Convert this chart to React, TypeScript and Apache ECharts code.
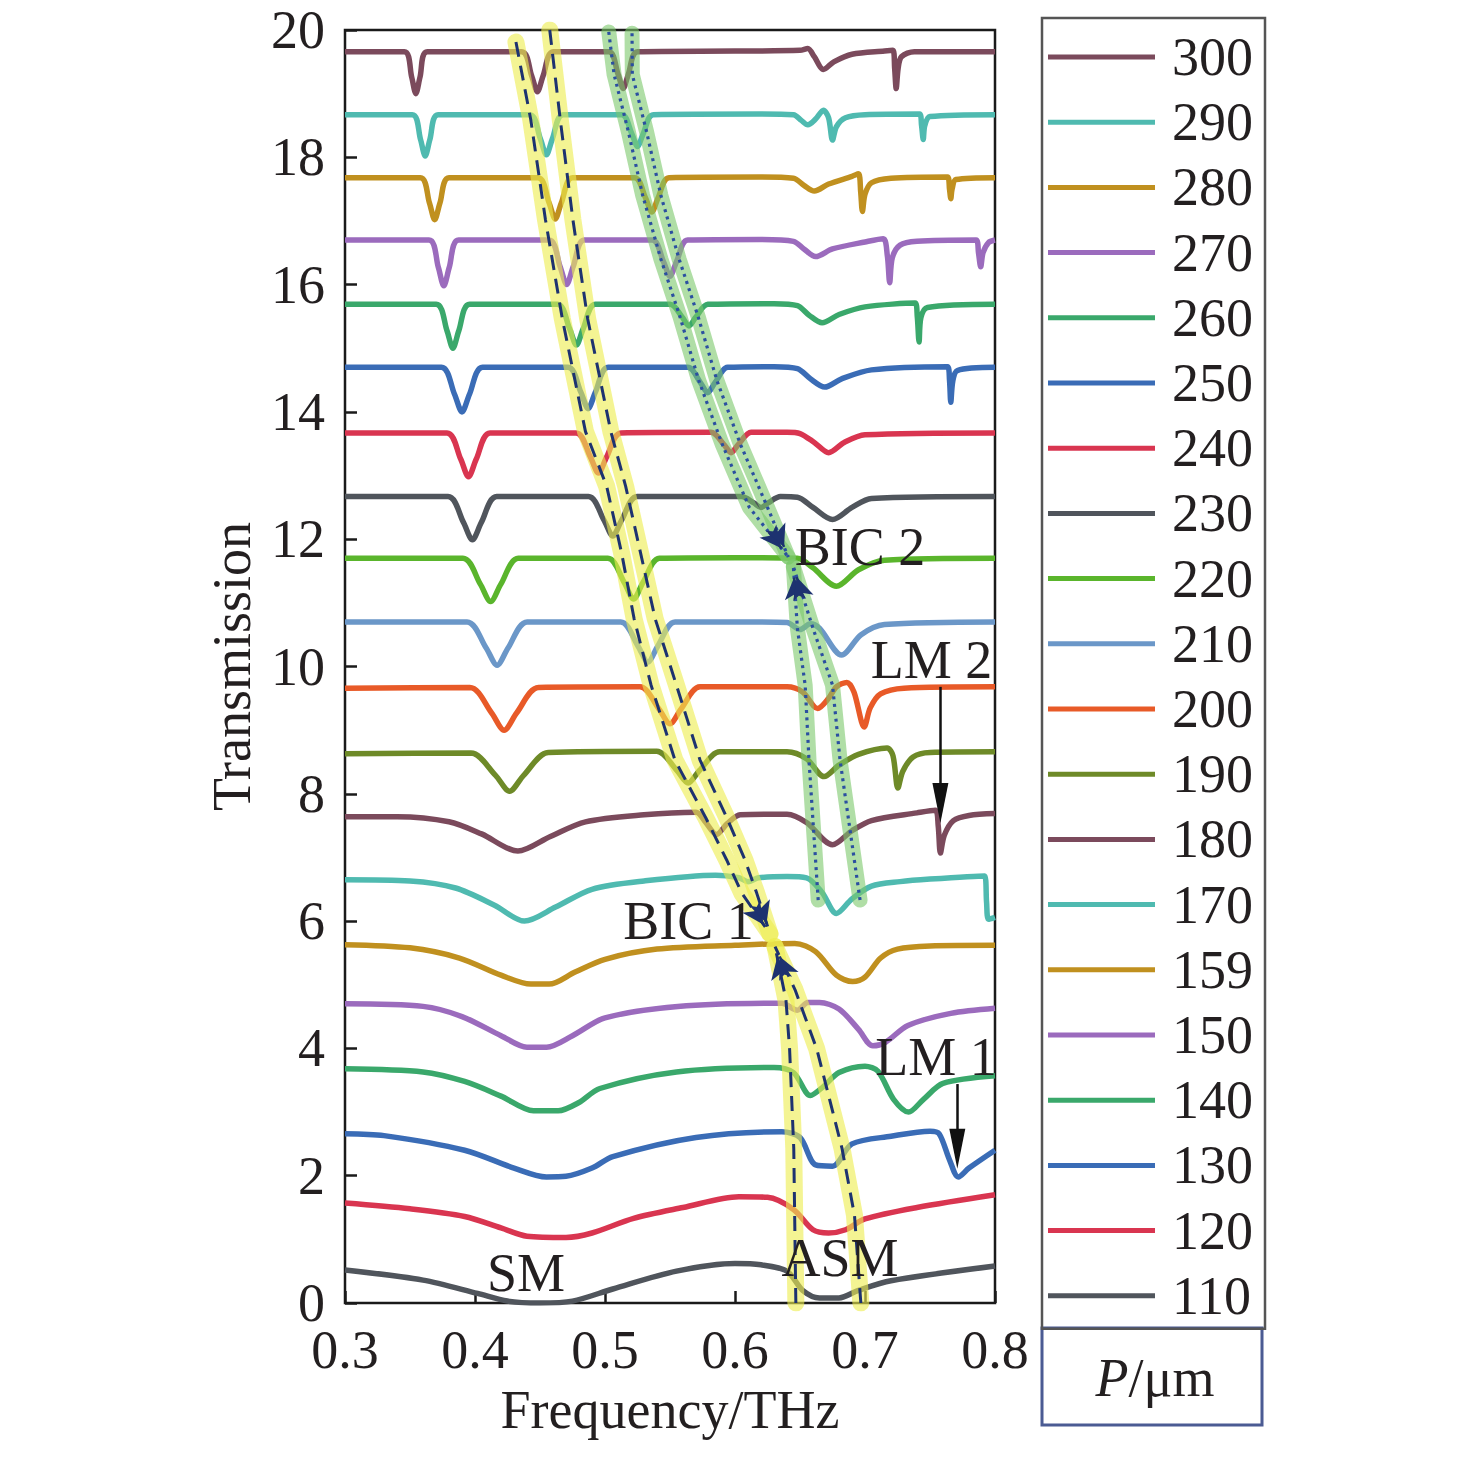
import React, { useEffect, useRef } from "react";
import * as echarts from "echarts";

// ---------- data ----------
const periods = ["300", "290", "280", "270", "260", "250", "240", "230", "220", "210", "200", "190", "180", "170", "159", "150", "140", "130", "120", "110"];
const xTicks = [0.3, 0.4, 0.5, 0.6, 0.7, 0.8];
const yTicks = [0, 2, 4, 6, 8, 10, 12, 14, 16, 18, 20];

const t300 = [[0.3,19.66],[0.3457,19.66],[0.3513,19.26],[0.3545,19.0],[0.3577,19.26],[0.3633,19.66],[0.4359,19.66],[0.4436,19.28],[0.448,19.03],[0.4524,19.28],[0.4601,19.66],[0.503,19.66],[0.51,19.31],[0.514,19.08],[0.518,19.31],[0.525,19.66],[0.6,19.67],[0.65,19.68],[0.656,19.71],[0.661,19.58],[0.668,19.38],[0.676,19.5],[0.69,19.62],[0.715,19.67],[0.7215,19.68],[0.7228,19.4],[0.724,19.08],[0.7255,19.4],[0.728,19.58],[0.738,19.66],[0.8,19.66]];
const t290 = [[0.3,18.67],[0.3518,18.67],[0.3581,18.28],[0.3617,18.02],[0.3653,18.28],[0.3716,18.67],[0.4421,18.67],[0.4503,18.29],[0.4549,18.04],[0.4595,18.29],[0.4677,18.67],[0.5129,18.67],[0.5206,18.37],[0.525,18.17],[0.5294,18.37],[0.5371,18.67],[0.62,18.68],[0.645,18.67],[0.651,18.58],[0.656,18.51],[0.662,18.6],[0.668,18.74],[0.672,18.62],[0.675,18.27],[0.678,18.48],[0.685,18.62],[0.7,18.67],[0.742,18.68],[0.7435,18.5],[0.7448,18.28],[0.746,18.5],[0.75,18.64],[0.8,18.67]];
const t280 = [[0.3,17.68],[0.358,17.68],[0.365,17.28],[0.369,17.02],[0.373,17.28],[0.38,17.68],[0.4485,17.68],[0.4569,17.29],[0.4617,17.03],[0.4665,17.29],[0.4749,17.68],[0.5228,17.68],[0.5312,17.36],[0.536,17.14],[0.5408,17.36],[0.5492,17.68],[0.62,17.69],[0.645,17.67],[0.653,17.56],[0.661,17.47],[0.672,17.58],[0.69,17.7],[0.695,17.74],[0.6967,17.45],[0.698,17.15],[0.7,17.42],[0.705,17.6],[0.72,17.67],[0.7635,17.69],[0.765,17.5],[0.766,17.35],[0.767,17.5],[0.77,17.65],[0.8,17.68]];
const t270 = [[0.3,16.7],[0.3646,16.7],[0.3718,16.27],[0.376,15.98],[0.3802,16.27],[0.3874,16.7],[0.4569,16.7],[0.4655,16.28],[0.4705,16.0],[0.4755,16.28],[0.4841,16.7],[0.5364,16.7],[0.545,16.36],[0.55,16.13],[0.555,16.36],[0.5636,16.7],[0.62,16.71],[0.645,16.68],[0.653,16.56],[0.662,16.44],[0.675,16.56],[0.7,16.67],[0.714,16.72],[0.7172,16.45],[0.719,16.03],[0.721,16.42],[0.727,16.62],[0.74,16.68],[0.7855,16.7],[0.7873,16.5],[0.789,16.28],[0.7908,16.5],[0.795,16.66],[0.8,16.7]];
const t260 = [[0.3,15.69],[0.3702,15.69],[0.3784,15.28],[0.383,15.0],[0.3876,15.28],[0.3958,15.69],[0.4635,15.69],[0.4727,15.31],[0.478,15.05],[0.4833,15.31],[0.4925,15.69],[0.5501,15.69],[0.5593,15.49],[0.5646,15.35],[0.5699,15.49],[0.5791,15.69],[0.63,15.7],[0.648,15.67],[0.657,15.52],[0.667,15.4],[0.68,15.53],[0.7,15.65],[0.7385,15.71],[0.7402,15.5],[0.7416,15.1],[0.743,15.48],[0.748,15.64],[0.8,15.69]];
const t250 = [[0.3,14.7],[0.3742,14.7],[0.3842,14.28],[0.39,14.0],[0.3958,14.28],[0.4058,14.7],[0.4716,14.7],[0.4814,14.31],[0.487,14.05],[0.4926,14.31],[0.5024,14.7],[0.5636,14.7],[0.5734,14.46],[0.579,14.3],[0.5846,14.46],[0.5944,14.7],[0.63,14.71],[0.648,14.68],[0.658,14.52],[0.669,14.39],[0.682,14.52],[0.705,14.66],[0.7635,14.71],[0.765,14.5],[0.766,14.15],[0.7675,14.48],[0.771,14.65],[0.8,14.7]];
const t240 = [[0.3,13.67],[0.3785,13.67],[0.389,13.26],[0.395,12.98],[0.401,13.26],[0.4115,13.67],[0.4778,13.67],[0.4888,13.29],[0.495,13.04],[0.5012,13.29],[0.5122,13.67],[0.5816,13.68],[0.5914,13.49],[0.597,13.36],[0.6026,13.49],[0.6124,13.68],[0.64,13.68],[0.65,13.66],[0.661,13.52],[0.672,13.36],[0.684,13.52],[0.7,13.64],[0.8,13.67]];
const t230 = [[0.3,12.67],[0.3793,12.67],[0.3912,12.26],[0.398,11.99],[0.4048,12.26],[0.4167,12.67],[0.4873,12.67],[0.4992,12.3],[0.506,12.05],[0.5128,12.3],[0.5247,12.67],[0.605,12.67],[0.6145,12.57],[0.62,12.5],[0.6255,12.57],[0.635,12.67],[0.648,12.66],[0.66,12.5],[0.675,12.31],[0.69,12.5],[0.705,12.64],[0.8,12.67]];
const t220 = [[0.3,11.7],[0.3907,11.7],[0.4042,11.29],[0.412,11.02],[0.4198,11.29],[0.4333,11.7],[0.5022,11.7],[0.5148,11.32],[0.522,11.06],[0.5292,11.32],[0.5418,11.7],[0.6,11.71],[0.648,11.7],[0.66,11.55],[0.678,11.26],[0.695,11.52],[0.715,11.67],[0.8,11.7]];
const t210 = [[0.3,10.7],[0.3939,10.7],[0.4086,10.29],[0.417,10.02],[0.4254,10.29],[0.4401,10.7],[0.5121,10.7],[0.5254,10.32],[0.533,10.07],[0.5406,10.32],[0.5539,10.7],[0.62,10.7],[0.64,10.69],[0.65,10.58],[0.658,10.67],[0.665,10.6],[0.682,10.18],[0.697,10.5],[0.715,10.66],[0.8,10.7]];
const t200 = [[0.3,9.66],[0.396,9.67],[0.4128,9.27],[0.4224,9.0],[0.432,9.27],[0.4488,9.67],[0.5269,9.68],[0.5416,9.33],[0.55,9.1],[0.5584,9.33],[0.5731,9.68],[0.64,9.68],[0.652,9.6],[0.6636,9.34],[0.672,9.5],[0.678,9.68],[0.686,9.75],[0.6915,9.6],[0.6994,9.05],[0.704,9.35],[0.712,9.57],[0.73,9.66],[0.8,9.68]];
const t190 = [[0.3,8.63],[0.3969,8.64],[0.4158,8.29],[0.4266,8.04],[0.4374,8.29],[0.4563,8.65],[0.5398,8.67],[0.5552,8.37],[0.564,8.17],[0.5728,8.37],[0.5882,8.66],[0.64,8.66],[0.655,8.55],[0.6685,8.27],[0.68,8.45],[0.695,8.62],[0.717,8.72],[0.7215,8.6],[0.7253,8.09],[0.729,8.35],[0.737,8.58],[0.75,8.65],[0.8,8.66]];
const t180 = [[0.3,7.64],[0.34,7.64],[0.38,7.56],[0.405,7.37],[0.433,7.1],[0.458,7.33],[0.485,7.56],[0.53,7.67],[0.57,7.71],[0.5775,7.55],[0.5857,7.36],[0.594,7.53],[0.604,7.67],[0.64,7.68],[0.655,7.55],[0.675,7.2],[0.69,7.42],[0.705,7.58],[0.74,7.7],[0.754,7.74],[0.7563,7.5],[0.758,7.07],[0.761,7.35],[0.768,7.58],[0.78,7.66],[0.8,7.69]];
const t170 = [[0.3,6.65],[0.35,6.63],[0.385,6.52],[0.415,6.25],[0.438,6.0],[0.462,6.22],[0.49,6.5],[0.53,6.63],[0.585,6.72],[0.603,6.68],[0.61,6.62],[0.618,6.68],[0.64,6.7],[0.655,6.68],[0.667,6.45],[0.678,6.12],[0.69,6.35],[0.705,6.55],[0.727,6.62],[0.75,6.66],[0.792,6.71],[0.7935,6.3],[0.795,6.03],[0.8,6.06]];
const t159 = [[0.3,5.63],[0.35,5.58],[0.388,5.42],[0.42,5.15],[0.443,5.01],[0.457,5.01],[0.477,5.2],[0.5,5.4],[0.54,5.56],[0.6,5.62],[0.646,5.65],[0.662,5.52],[0.678,5.15],[0.6905,5.05],[0.7,5.12],[0.712,5.42],[0.725,5.56],[0.75,5.61],[0.8,5.62]];
const t150 = [[0.3,4.7],[0.36,4.66],[0.39,4.5],[0.42,4.2],[0.44,4.02],[0.455,4.02],[0.475,4.2],[0.5,4.48],[0.556,4.66],[0.636,4.71],[0.648,4.6],[0.656,4.72],[0.665,4.72],[0.68,4.62],[0.695,4.3],[0.706,4.04],[0.716,4.1],[0.733,4.36],[0.766,4.55],[0.8,4.63]];
const t140 = [[0.3,3.68],[0.36,3.63],[0.392,3.48],[0.42,3.25],[0.445,3.02],[0.464,3.02],[0.48,3.15],[0.496,3.37],[0.555,3.63],[0.63,3.7],[0.645,3.62],[0.658,3.26],[0.668,3.4],[0.68,3.62],[0.7,3.72],[0.71,3.64],[0.722,3.2],[0.7335,3.0],[0.745,3.2],[0.76,3.45],[0.8,3.57]];
const t130 = [[0.3,2.66],[0.33,2.63],[0.392,2.4],[0.43,2.12],[0.455,1.98],[0.47,1.99],[0.49,2.12],[0.506,2.3],[0.57,2.6],[0.636,2.69],[0.65,2.6],[0.662,2.17],[0.675,2.15],[0.69,2.5],[0.72,2.62],[0.75,2.7],[0.757,2.66],[0.765,2.25],[0.7718,1.98],[0.78,2.12],[0.8,2.4]];
const t120 = [[0.3,1.57],[0.35,1.48],[0.392,1.36],[0.42,1.18],[0.44,1.05],[0.47,1.03],[0.49,1.1],[0.522,1.33],[0.56,1.5],[0.603,1.67],[0.625,1.66],[0.645,1.47],[0.66,1.15],[0.672,1.1],[0.685,1.15],[0.7,1.32],[0.74,1.5],[0.8,1.7]];
const t110 = [[0.3,0.52],[0.36,0.36],[0.402,0.15],[0.425,0.03],[0.45,0.0],[0.475,0.03],[0.506,0.22],[0.555,0.5],[0.6,0.62],[0.62,0.6],[0.64,0.5],[0.652,0.2],[0.665,0.08],[0.68,0.08],[0.695,0.2],[0.72,0.35],[0.8,0.58]];

const curves = [t300, t290, t280, t270, t260, t250, t240, t230, t220, t210, t200, t190, t180, t170, t159, t150, t140, t130, t120, t110];

// mode tracks (yellow/dashed = towards BIC 1, green/dotted = towards BIC 2), drawn towards the arrow tip
const smUpperLeft = [[0.4315,19.81],[0.4429,18.59],[0.4542,17.02],[0.4672,15.46],[0.485,13.69],[0.5013,12.83],[0.5127,11.79],[0.5224,10.75],[0.5354,9.71],[0.5538,8.53],[0.5776,7.62],[0.5936,6.96],[0.6052,6.44],[0.6269,5.8]];
const smUpperRight = [[0.4575,20.0],[0.4656,18.59],[0.4753,17.02],[0.4867,15.46],[0.5045,13.69],[0.5159,12.83],[0.5273,11.79],[0.5386,10.75],[0.5549,9.71],[0.5731,8.53],[0.5938,7.62],[0.6077,6.96],[0.6167,6.44],[0.6269,5.8]];
const asmLowerLeft = [[0.6468,0.0],[0.6452,2.43],[0.642,3.99],[0.6392,4.76],[0.6308,5.6]];
const asmLowerRight = [[0.6968,0.0],[0.6919,1.38],[0.6823,2.43],[0.6629,3.99],[0.6462,4.92],[0.6308,5.6]];
const bicUpperLeft = [[0.5029,19.97],[0.507,19.3],[0.518,18.4],[0.529,17.4],[0.543,16.4],[0.5576,15.5],[0.572,14.5],[0.59,13.5],[0.611,12.5],[0.641,11.72]];
const bicUpperRight = [[0.5208,19.95],[0.521,19.3],[0.532,18.4],[0.543,17.4],[0.557,16.4],[0.5716,15.5],[0.586,14.5],[0.604,13.5],[0.625,12.5],[0.641,11.72]];
const bicLowerLeft = [[0.664,6.33],[0.657,8.5],[0.654,9.7],[0.648,10.6],[0.6449,11.57]];
const bicLowerRight = [[0.6962,6.33],[0.6808,8.53],[0.675,9.71],[0.66,10.6],[0.6449,11.57]];

// LM arrows: [start, tip]
const lmArrows = [[[0.758, 9.68], [0.758, 7.54]], [[0.771, 3.44], [0.771, 2.11]]];

const annotations = [
  { text: "BIC 2", f: 0.6962, v: 11.88 },
  { text: "LM 2", f: 0.7512, v: 10.1 },
  { text: "BIC 1", f: 0.5642, v: 6.0 },
  { text: "LM 1", f: 0.7546, v: 3.86 },
  { text: "SM", f: 0.4392, v: 0.47 },
  { text: "ASM", f: 0.6808, v: 0.71 },
];

// ---------- styles ----------
const colors = ["#7b4a5c", "#4fbab0", "#c0901f", "#9b6bbd", "#3aa86b", "#3a6cb6", "#d93550", "#50555c", "#5ab52c", "#6b97c8", "#e85a28", "#6e8a28", "#7b4a5c", "#4fbab0", "#c0901f", "#9b6bbd", "#3aa86b", "#3a6cb6", "#d93550", "#50555c"];
const FONT = '"Liberation Serif", "Times New Roman", Times, serif';
const INK = "#231f20";
const NAVY = "#1d3270";
const GRID = { left: 345, top: 30, right: 481, bottom: 173 };
const PX_PER_V = (1476 - GRID.top - GRID.bottom) / 20;
const PX_PER_F = (1476 - GRID.left - GRID.right) / 0.5;
const LM_HEAD = [16, 40];
const TRACK_HEAD = [16, 22];

// the arrow symbol is centred on the line end, so end the line half a head before the tip
function pullBack(a: number[], b: number[], px: number) {
  const dx = (b[0] - a[0]) * PX_PER_F;
  const dy = (b[1] - a[1]) * PX_PER_V;
  const len = Math.hypot(dx, dy) || 1;
  return [b[0] - (dx / len) * px / PX_PER_F, b[1] - (dy / len) * px / PX_PER_V];
}

function arrowSeg(track: number[][]) {
  const a = track[track.length - 2];
  const b = track[track.length - 1];
  const end = pullBack(a, b, TRACK_HEAD[1] / 2);
  return { coords: [[a[0] + (b[0] - a[0]) * 0.5, a[1] + (b[1] - a[1]) * 0.5], end] };
}

function lmSeg(c: number[][]) {
  return { coords: [c[0], pullBack(c[0], c[1], LM_HEAD[1] / 2)] };
}

function buildOption() {
  const series: any[] = curves.map((d, i) => ({
    type: "line",
    name: periods[i],
    data: d,
    smooth: 0.3,
    showSymbol: false,
    symbol: "none",
    silent: true,
    lineStyle: { width: 5.5, color: colors[i] },
    itemStyle: { color: colors[i] },
    z: 2,
  }));

  const yellow = [smUpperLeft, smUpperRight, asmLowerLeft, asmLowerRight];
  const green = [bicUpperLeft, bicUpperRight, bicLowerLeft, bicLowerRight];

  yellow.forEach((t) => {
    series.push({ type: "line", data: t, showSymbol: false, symbol: "none", silent: true, z: 3,
      lineStyle: { width: 17, color: "#eded50", opacity: 0.62, cap: "round", join: "round" } });
  });
  green.forEach((t) => {
    series.push({ type: "line", data: t, showSymbol: false, symbol: "none", silent: true, z: 3,
      lineStyle: { width: 15, color: "#7cc86a", opacity: 0.6, cap: "round", join: "round" } });
  });
  yellow.forEach((t) => {
    series.push({ type: "line", data: t, showSymbol: false, symbol: "none", silent: true, z: 4,
      lineStyle: { width: 3, color: NAVY, type: [15, 9] } });
  });
  green.forEach((t) => {
    series.push({ type: "line", data: t, showSymbol: false, symbol: "none", silent: true, z: 4,
      lineStyle: { width: 3.2, color: "#2b4fa0", type: [3, 4.5] } });
  });

  series.push({
    type: "lines", coordinateSystem: "cartesian2d", silent: true, z: 5,
    symbol: ["none", "arrow"], symbolSize: [0, TRACK_HEAD],
    lineStyle: { color: NAVY, width: 2.5, opacity: 1 },
    data: [...yellow, ...green].map(arrowSeg),
  });
  series.push({
    type: "lines", coordinateSystem: "cartesian2d", silent: true, z: 5,
    symbol: ["none", "triangle"], symbolSize: [0, LM_HEAD],
    lineStyle: { color: "#111", width: 2.5, opacity: 1 },
    data: lmArrows.map(lmSeg),
  });
  series.push({
    type: "scatter", silent: true, z: 6, symbolSize: 0,
    itemStyle: { opacity: 1 },
    data: annotations.map((a) => ({ value: [a.f, a.v], name: a.text })),
    label: { show: true, position: [0, 0], align: "center", verticalAlign: "middle", formatter: (p: any) => p.name,
      fontFamily: FONT, fontSize: 54, color: INK, textBorderWidth: 0, opacity: 1 },
  });

  return {
    animation: false,
    backgroundColor: "#ffffff",
    grid: { ...GRID, show: true, borderColor: "#1a1a1a", borderWidth: 2.5, backgroundColor: "transparent" },
    xAxis: {
      type: "value", min: xTicks[0], max: xTicks[xTicks.length - 1], interval: 0.1,
      name: "Frequency/THz", nameLocation: "middle", nameGap: 80,
      nameTextStyle: { fontFamily: FONT, fontSize: 54, color: INK },
      axisLine: { show: false },
      axisTick: { show: true, inside: true, length: 12, lineStyle: { color: "#1a1a1a", width: 2.5 } },
      axisLabel: { fontFamily: FONT, fontSize: 54, color: INK, margin: 20, formatter: (v: number) => v.toFixed(1) },
      splitLine: { show: false },
    },
    yAxis: {
      type: "value", min: yTicks[0], max: yTicks[yTicks.length - 1], interval: 2,
      name: "Transmission", nameLocation: "middle", nameGap: 86,
      nameTextStyle: { fontFamily: FONT, fontSize: 54, color: INK },
      axisLine: { show: false },
      axisTick: { show: true, inside: true, length: 12, lineStyle: { color: "#1a1a1a", width: 2.5 } },
      axisLabel: { fontFamily: FONT, fontSize: 54, color: INK, margin: 20 },
      splitLine: { show: false },
    },
    legend: {
      data: periods, orient: "vertical", left: 1042, top: 18,
      itemWidth: 107, itemHeight: 5, itemGap: 11.2, icon: "rect",
      padding: [12, 12, 6, 6], borderColor: "#555", borderWidth: 2.5,
      selectedMode: false,
      textStyle: { fontFamily: FONT, fontSize: 54, color: INK, padding: [0, 0, 0, 12] },
    },
    graphic: [
      { type: "rect", shape: { x: 1042, y: 1328, width: 220, height: 97 }, style: { fill: "none", stroke: "#4b5b93", lineWidth: 3 } },
      { type: "text", x: 1155, y: 1378, style: { text: "{i|P}/μm", fontFamily: FONT, fontSize: 54, fill: INK, align: "center", verticalAlign: "middle",
        rich: { i: { fontStyle: "italic", fontFamily: FONT, fontSize: 54, fill: INK } } } },
    ],
    series,
  };
}

export default function App() {
  const ref = useRef<HTMLDivElement>(null);
  useEffect(() => {
    const chart = echarts.init(ref.current!, null, { renderer: "svg" });
    chart.setOption(buildOption() as any);
    return () => chart.dispose();
  }, []);
  return <div ref={ref} style={{ position: "fixed", left: 0, top: 0, width: 1476, height: 1476, background: "#fff" }} />;
}
